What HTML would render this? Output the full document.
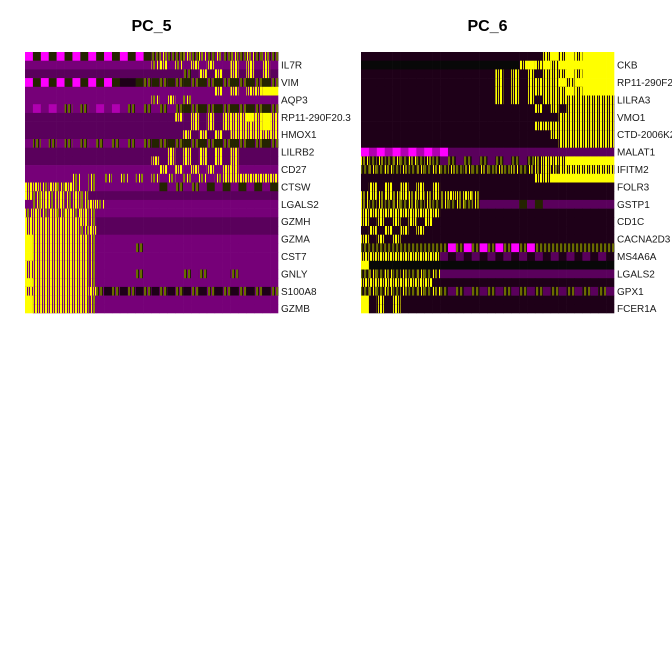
<!DOCTYPE html>
<html>
<head>
<meta charset="utf-8">
<style>
  html, body { margin: 0; padding: 0; background: #ffffff; }
  svg { display: block; }
  text { font-family: "Liberation Sans", sans-serif; }
</style>
</head>
<body>
<svg id="chart" width="672" height="672" viewBox="0 0 672 672" xmlns="http://www.w3.org/2000/svg">
  <defs>
    <pattern id="p8" width="5" height="10" patternUnits="userSpaceOnUse">
      <rect x="0" y="0" width="2" height="10" fill="#ffff00"/>
      <rect x="3" y="0" width="1" height="10" fill="#e0e000"/>
    </pattern>
    <pattern id="p7" width="6" height="10" patternUnits="userSpaceOnUse">
      <rect x="1" y="0" width="1" height="10" fill="#ffff00"/>
      <rect x="3" y="0" width="2" height="10" fill="#8a8a00"/>
    </pattern>
    <pattern id="p6" width="4" height="10" patternUnits="userSpaceOnUse">
      <rect x="0" y="0" width="2" height="10" fill="#6a6a00"/>
      <rect x="2" y="0" width="1" height="10" fill="#202000"/>
    </pattern>
  </defs>
  <rect x="0" y="0" width="672" height="672" fill="#ffffff"/>
  <g id="panel5"></g>
  <g id="panel6"></g>
</svg>
<script>
// Level codes per block: 0 magenta ... 4 dark purple-black ... 9 yellow, k black; 6/7/8 = striped olive/yellow
const pc5Genes = ["", "IL7R", "", "VIM", "", "AQP3", "", "RP11-290F20.3", "", "HMOX1", "", "LILRB2", "", "CD27", "", "CTSW", "", "LGALS2", "", "GZMH", "", "GZMA", "", "CST7", "", "GNLY", "", "S100A8", "", "GZMB"];
const pc5Rows = [
  "05050505050505056766767676767676",
  "22222222222222227827282822828282",
  "33333333333333333333638383838383",
  "05050505050544565656565656565656",
  "22222222222222222222222282828899",
  "22222222222222227282722222222222",
  "21212626212126262626565656565656",
  "33333333333333333338383838889898",
  "33333333333333333333383838888898",
  "33333333333333333333838383888888",
  "26262626262626265656565656565656",
  "33333333333333333383838383833333",
  "33333333333333338383838383833333",
  "22222222222222222828282828822222",
  "22222272727272727272727278888888",
  "88787872722222222526262525252525",
  "87878787333333333333333333333333",
  "27878787872222222222222222222222",
  "78787878722222222222222222222222",
  "88888888733333333333333333333333",
  "88888887833333333333333333333333",
  "98888888722222222222222222222222",
  "98888888722222622222222222222222",
  "98888888722222222222222222222222",
  "88888888722222222222222222222222",
  "88888888722222622222626222622222",
  "98888888722222222222222222222222",
  "88888888864646464646464646464646",
  "98888888722222222222222222222222",
  "98888888722222222222222222222222"
];
const pc6Genes = ["", "CKB", "", "RP11-290F20.3", "", "LILRA3", "", "VMO1", "", "CTD-2006K23.1", "", "MALAT1", "", "IFITM2", "", "FOLR3", "", "GSTP1", "", "CD1C", "", "CACNA2D3", "", "MS4A6A", "", "LGALS2", "", "GPX1", "", "FCER1A"];
const pc6Rows = [
  "44444444444444444444444898989999",
  "kkkkkkkkkkkkkkkkkkkk898989999999",
  "44444444444444444848484888989999",
  "44444444444444444848488889899999",
  "44444444444444444848488888989999",
  "44444444444444444848484888888888",
  "44444444444444444444448484888888",
  "44444444444444444444444448888888",
  "44444444444444444444448888888888",
  "44444444444444444444444488888888",
  "44444444444444444444444448888888",
  "01010101010333333333333333333333",
  "76767676763636363636367888999999",
  "67676767676767676767677878888888",
  "44444444444444444444448899999999",
  "48484848484444444444444444444444",
  "78787878787878744444444444444444",
  "76767676767676733333535333333333",
  "88888888884444444444444444444444",
  "84848484844444444444444444444444",
  "48484848444444444444444444444444",
  "84848444444444444444444444444444",
  "66666666666060606060606666666666",
  "88888888883434343434343434343434",
  "9kkkkkkkkkkkkkkkkkkkkkkkkkkkkkkk",
  "67676767673333333333333333333333",
  "88888888844444444444444444444444",
  "67676767676363636363636363636363",
  "94848444444444444444444444444444",
  "94848444444444444444444444444444"
];
const titles = ["PC_5", "PC_6"];

const solid = {"0":"#ff00ff","1":"#b000b0","2":"#760078","3":"#5a005c","4":"#1e0018",
  "5":"#242400","9":"#ffff00","k":"#080808"};
const patterns = {"6":"url(#p6)","7":"url(#p7)","8":"url(#p8)"};
const NS = "http://www.w3.org/2000/svg";
const top0 = 52, bottom0 = 313;

function drawPanel(g, rows, genes, title, x0, x1, idx, bg) {
  const nR = rows.length;
  const rowH = (bottom0 - top0) / nR;
  const xScale = (i, n) => x0 + (x1 - x0) * i / n;
  const t = document.createElementNS(NS, "text");
  t.setAttribute("x", (x0 + x1) / 2);
  t.setAttribute("y", 31);
  t.setAttribute("text-anchor", "middle");
  t.setAttribute("font-size", "16");
  t.setAttribute("font-weight", "bold");
  t.textContent = title;
  
  
  g.appendChild(t);
  rows.forEach((row, r) => {
    const n = row.length;
    const y = top0 + r * rowH;
    for (let i = 0; i < n; i++) {
      const c = row[i];
      const xa = xScale(i, n), xb = xScale(i + 1, n);
      const rect = document.createElementNS(NS, "rect");
      rect.setAttribute("x", xa);
      rect.setAttribute("y", y);
      rect.setAttribute("width", xb - xa + 0.3);
      rect.setAttribute("height", rowH + 0.3);
      rect.setAttribute("fill", solid[c] || bg);
      
      
      g.appendChild(rect);
      if (patterns[c]) {
        const pr = document.createElementNS(NS, "rect");
        pr.setAttribute("x", xa);
        pr.setAttribute("y", y);
        pr.setAttribute("width", xb - xa + 0.3);
        pr.setAttribute("height", rowH + 0.3);
        pr.setAttribute("fill", patterns[c]);
        
        
        g.appendChild(pr);
      }
    }
    if (genes[r]) {
      const lab = document.createElementNS(NS, "text");
      lab.setAttribute("x", x1 + 3);
      lab.setAttribute("y", y + rowH / 2 + 3.5);
      lab.setAttribute("font-size", "10");
      lab.setAttribute("fill", "#1a1a1a");
      lab.textContent = genes[r];
      
      
      g.appendChild(lab);
    }
  });
}
drawPanel(document.getElementById("panel5"), pc5Rows, pc5Genes, titles[0], 25, 278, 5, "#760078");
drawPanel(document.getElementById("panel6"), pc6Rows, pc6Genes, titles[1], 361, 614, 6, "#1e0018");
</script>
</body>
</html>
